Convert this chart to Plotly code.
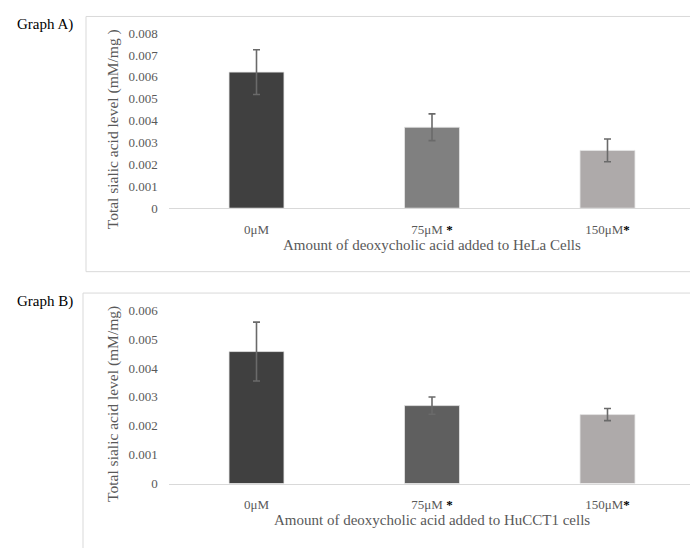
import plotly.graph_objects as go

# page body has an 8px margin; the figure is sized to fill the rest of the window
OFF = 8
W, H = 698 - OFF, 548 - OFF

categories = ["0μM", "75μM *", "150μM*"]
tick_labels = ["0μM", "75μM <b><span style='color:#000000'>*</span></b>", "150μM<b><span style='color:#000000'>*</span></b>"]

hela_values = [0.00622, 0.00370, 0.00264]
hela_errors = [0.00102, 0.00061, 0.00052]
hela_colors = ["#404040", "#808080", "#aeaaaa"]

hucct1_values = [0.00457, 0.00270, 0.00239]
hucct1_errors = [0.00102, 0.00030, 0.00021]
hucct1_colors = ["#404040", "#5f5f5f", "#aeaaaa"]

yticks_a = [0, 0.001, 0.002, 0.003, 0.004, 0.005, 0.006, 0.007, 0.008]
yticks_b = [0, 0.001, 0.002, 0.003, 0.004, 0.005, 0.006]

FONT = "Liberation Serif, Times New Roman, serif"
TICK_COLOR = "#595959"


def px_x(p):
    return (p - OFF) / W


def px_y(p):
    return 1 - (p - OFF) / H


fig = go.Figure()

for vals, errs, cols, xa, ya in [
    (hela_values, hela_errors, hela_colors, "x", "y"),
    (hucct1_values, hucct1_errors, hucct1_colors, "x2", "y2"),
]:
    fig.add_trace(go.Bar(
        x=categories, y=vals,
        marker=dict(color=cols, line=dict(color="#e6e6e6", width=0.8)),
        error_y=dict(type="data", array=errs, visible=True, color="#6a6a6a",
                     thickness=1.6, width=3.5),
        xaxis=xa, yaxis=ya, showlegend=False,
    ))

xdom = [px_x(168.75), px_x(695.25)]
common_x = dict(
    domain=xdom, type="category", categoryorder="array", categoryarray=categories,
    tickmode="array", tickvals=categories, ticktext=tick_labels,
    showline=True, linecolor="#d9d9d9", linewidth=1, showgrid=False, zeroline=False,
    ticks="", tickfont=dict(family=FONT, size=13, color=TICK_COLOR),
    ticklabelstandoff=9, fixedrange=True,
)
common_y = dict(
    showgrid=False, zeroline=False, showline=False, ticks="",
    tickfont=dict(family=FONT, size=13, color=TICK_COLOR),
    ticklabelstandoff=10, fixedrange=True,
)

fig.update_layout(
    width=W, height=H,
    margin=dict(l=0, r=0, t=0, b=0),
    paper_bgcolor="white", plot_bgcolor="white",
    bargap=0.687,
    xaxis=dict(common_x, anchor="y"),
    yaxis=dict(common_y, domain=[px_y(206.7), px_y(26.7)], range=[0, 0.008],
               tickvals=yticks_a, ticktext=[("%g" % v) if v else "0" for v in yticks_a], anchor="x"),
    xaxis2=dict(common_x, anchor="y2"),
    yaxis2=dict(common_y, domain=[px_y(490), px_y(311.7)], range=[0, 0.006],
                tickvals=yticks_b, ticktext=[("%g" % v) if v else "0" for v in yticks_b], anchor="x2"),
)

# frames around each chart
fig.add_shape(type="rect", xref="paper", yref="paper",
              x0=px_x(86), x1=px_x(697), y0=px_y(272), y1=px_y(9.5),
              line=dict(color="#d9d9d9", width=1), fillcolor="rgba(0,0,0,0)", layer="below")
fig.add_shape(type="rect", xref="paper", yref="paper",
              x0=px_x(83), x1=px_x(697), y0=px_y(560), y1=px_y(294),
              line=dict(color="#d9d9d9", width=1), fillcolor="rgba(0,0,0,0)", layer="below")

ann = [
    dict(text="Graph A)", x=px_x(15), y=px_y(18), xanchor="left", yanchor="middle",
         font=dict(family=FONT, size=15, color="#000000")),
    dict(text="Graph B)", x=px_x(15), y=px_y(303), xanchor="left", yanchor="middle",
         font=dict(family=FONT, size=15, color="#000000")),
    dict(text="Total sialic acid level (mM/mg )", x=px_x(113), y=px_y(125.5), textangle=-90,
         xanchor="center", yanchor="middle", font=dict(family=FONT, size=15.5, color=TICK_COLOR)),
    dict(text="Total sialic acid level (mM/mg)", x=px_x(113), y=px_y(408), textangle=-90,
         xanchor="center", yanchor="middle", font=dict(family=FONT, size=15.5, color=TICK_COLOR)),
    dict(text="Amount of deoxycholic acid added to HeLa Cells", x=px_x(432), y=px_y(245),
         xanchor="center", yanchor="middle", font=dict(family=FONT, size=15, color=TICK_COLOR)),
    dict(text="Amount of deoxycholic acid added to HuCCT1 cells", x=px_x(432), y=px_y(527),
         xanchor="center", yanchor="middle", font=dict(family=FONT, size=15, color=TICK_COLOR)),
]
for a in ann:
    fig.add_annotation(xref="paper", yref="paper", showarrow=False, **a)

fig.write_html("out.html")
